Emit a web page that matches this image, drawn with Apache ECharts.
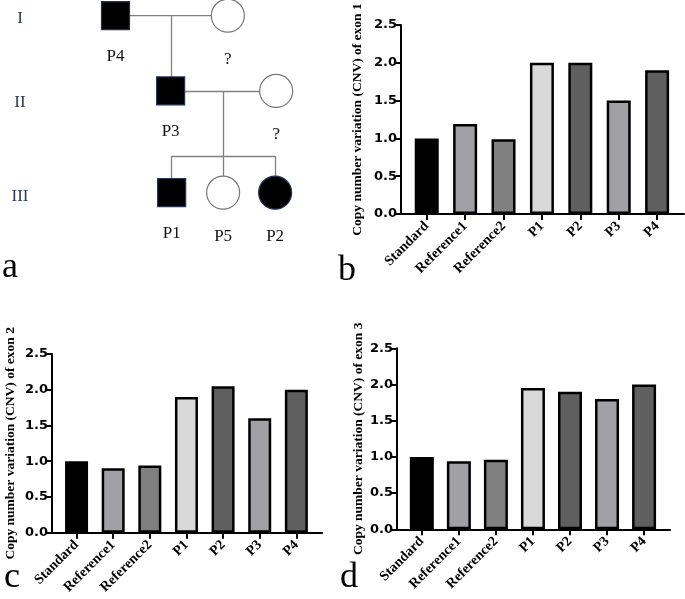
<!DOCTYPE html>
<html>
<head>
<meta charset="utf-8">
<script src="https://cdn.jsdelivr.net/npm/echarts@6/dist/echarts.min.js"></script>
<style>
html,body{margin:0;padding:0;background:#fff;}
#chart{width:685px;height:599px;}
</style>
</head>
<body>
<div id="chart"></div>
<script>
// ---------- data ----------
const categories = ['Standard', 'Reference1', 'Reference2', 'P1', 'P2', 'P3', 'P4'];
const exon1 = [1.0, 1.19, 0.99, 2.0, 2.0, 1.5, 1.9];
const exon2 = [1.0, 0.9, 0.94, 1.9, 2.05, 1.6, 2.0];
const exon3 = [1.0, 0.94, 0.96, 1.95, 1.9, 1.8, 2.0];
const yTickValues = [0, 0.5, 1.0, 1.5, 2.0, 2.5];
const exonTitles = [
  'Copy number variation (CNV) of exon 1',
  'Copy number variation (CNV) of exon 2',
  'Copy number variation (CNV) of exon 3'
];

// pedigree
const pedNames = ['P4', '?', 'P3', '?', 'P1', 'P5', 'P2'];
const pedSex = ['M', 'F', 'M', 'F', 'M', 'F', 'F'];
const pedAffected = [1, 0, 1, 0, 1, 0, 1];
const pedCol = [1, 3.16, 2.06, 4.09, 2.08, 3.07, 4.07];
const pedRow = [1, 1, 1.85, 1.85, 3, 3, 3];
const pedLinks = [
  [[1, 1], [3.16, 1]],
  [[2.08, 1], [2.08, 1.85]],
  [[2.06, 1.85], [4.09, 1.85]],
  [[3.07, 1.85], [3.07, 3]],
  [[2.08, 2.585], [4.07, 2.585]],
  [[2.08, 2.585], [2.08, 3]],
  [[4.07, 2.585], [4.07, 3]]
];
const generations = ['I', 'II', 'III'];
const panelLetters = ['a', 'b', 'c', 'd'];

// ---------- styles ----------
const barColors = ['#000000', '#a1a1a5', '#808080', '#d9d9d9', '#5f5f5f', '#a1a1a5', '#5f5f5f'];
const panels = [
  {left: 401, top: 25, width: 283, height: 189, gap: 36, data: exon1, title: exonTitles[0], bw: 24},
  {left: 52, top: 354, width: 270, height: 178.7, gap: 34, data: exon2, title: exonTitles[1], bw: 23},
  {left: 397, top: 348.3, width: 273, height: 181, gap: 31, data: exon3, title: exonTitles[2], bw: 24}
];

const grids = [], xAxes = [], yAxes = [], series = [];
panels.forEach((p, i) => {
  grids.push({left: p.left, top: p.top, width: p.width, height: p.height, containLabel: false});
  xAxes.push({
    type: 'value', gridIndex: i, min: -0.67, max: 6.7,
    splitLine: {show: false},
    axisLine: {show: true, onZero: false, lineStyle: {color: '#000', width: 2}},
    axisTick: {show: true, customValues: categories.map((c, k) => k), length: 6, lineStyle: {color: '#000', width: 2}},
    axisLabel: {
      show: true, customValues: categories.map((c, k) => k), rotate: 45, margin: 10,
      formatter: v => categories[Math.round(v)],
      fontFamily: 'Liberation Serif', fontWeight: 'bold', fontSize: 14, color: '#000'
    }
  });
  yAxes.push({
    type: 'value', gridIndex: i, min: yTickValues[0], max: yTickValues[yTickValues.length - 1], interval: 0.5,
    name: p.title, nameLocation: 'middle', nameRotate: 90, nameGap: p.gap,
    nameTextStyle: {fontFamily: 'Liberation Serif', fontWeight: 'bold', fontSize: 13.5, color: '#000'},
    splitLine: {show: false},
    axisLine: {show: true, onZero: false, lineStyle: {color: '#000', width: 2}},
    axisTick: {show: true, length: 5, lineStyle: {color: '#000', width: 2}},
    axisLabel: {
      formatter: v => v.toFixed(1), margin: 4,
      fontFamily: 'DejaVu Sans', fontWeight: 'bold', fontSize: 13, color: '#000'
    }
  });
  series.push({
    type: 'bar', xAxisIndex: i, yAxisIndex: i, barWidth: p.bw,
    data: p.data.map((v, k) => ({
      value: [k, v],
      itemStyle: {color: barColors[k], borderColor: '#000', borderWidth: 2.5}
    })),
    animation: false
  });
});

// pedigree coordinate system (hidden)
grids.push({left: 63.5, top: 15.7, width: 260, height: 177});
xAxes.push({type: 'value', gridIndex: 3, min: 0, max: 5, show: false});
yAxes.push({type: 'value', gridIndex: 3, min: 1, max: 3, inverse: true, show: false});

series.push({
  type: 'lines', coordinateSystem: 'cartesian2d', xAxisIndex: 3, yAxisIndex: 3,
  polyline: false, z: 1, silent: true,
  lineStyle: {color: '#808080', width: 1.3, opacity: 1},
  data: pedLinks.map(l => ({coords: l})),
  animation: false
});
series.push({
  type: 'scatter', xAxisIndex: 3, yAxisIndex: 3, z: 3,
  data: pedNames.map((n, k) => ({
    value: [pedCol[k], pedRow[k]],
    name: n,
    symbol: pedSex[k] === 'M' ? 'rect' : 'circle',
    symbolSize: pedSex[k] === 'M' ? 28 : 33,
    itemStyle: {
      color: pedAffected[k] ? '#000' : '#fff',
      borderColor: pedAffected[k] ? '#26324f' : '#777',
      borderWidth: 1.2,
      opacity: 1
    }
  })),
  label: {
    show: true, position: 'bottom', distance: 18,
    formatter: pr => pr.name,
    fontFamily: 'Liberation Serif', fontSize: 17, color: '#111'
  },
  animation: false
});

const genY = [19, 103, 197];
const letterPos = [[2, 268], [338, 271], [4, 578], [340, 578]];
const graphics = [];
generations.forEach((g, k) => graphics.push({
  type: 'text', style: {text: g, x: 20, y: genY[k], textAlign: 'center', textVerticalAlign: 'middle',
    font: '17px "Liberation Serif"', fill: '#2e3a59'}
}));
panelLetters.forEach((t, k) => graphics.push({
  type: 'text', style: {text: t, x: letterPos[k][0], y: letterPos[k][1], textAlign: 'left', textVerticalAlign: 'middle',
    font: '36px "Liberation Serif"', fill: '#000'}
}));

const chart = echarts.init(document.getElementById('chart'), null, {renderer: 'canvas'});
chart.setOption({
  animation: false,
  backgroundColor: '#fff',
  grid: grids, xAxis: xAxes, yAxis: yAxes, series: series,
  graphic: graphics
});
</script>
</body>
</html>
